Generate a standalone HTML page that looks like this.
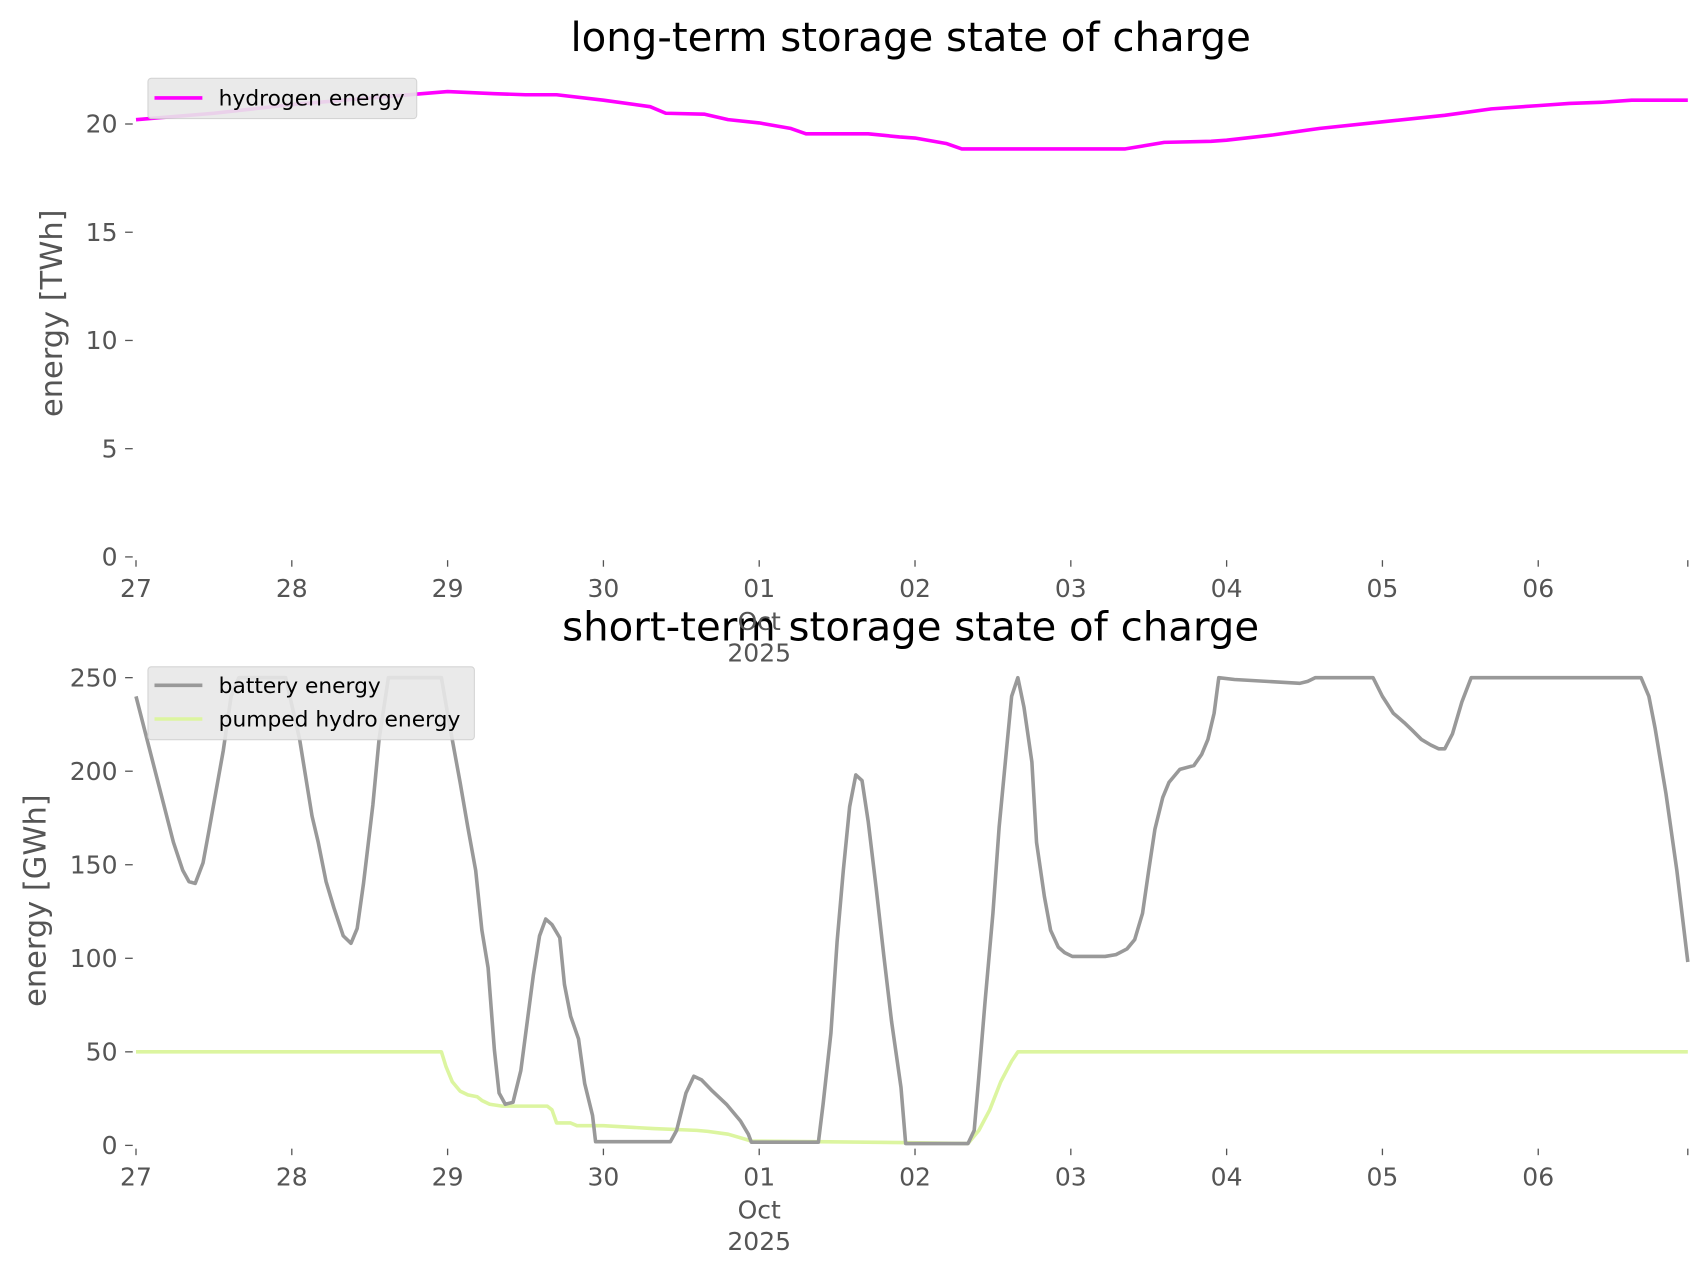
<!DOCTYPE html>
<html><head><meta charset="utf-8"><style>
html,body{margin:0;padding:0;background:#fff;}
svg{display:block;font-family:"DejaVu Sans","Liberation Sans",sans-serif;}
</style></head><body>
<svg id="chart" width="1706" height="1277" viewBox="0 0 1568 1174" preserveAspectRatio="none">
<text x="837" y="47" font-size="37" text-anchor="middle" fill="#000">long-term storage state of charge</text>
<text x="837" y="589" font-size="37" text-anchor="middle" fill="#000">short-term storage state of charge</text>
<text transform="translate(57,288) rotate(-90)" font-size="28" text-anchor="middle" fill="#555">energy [TWh]</text>
<text transform="translate(42,828) rotate(-90)" font-size="28" text-anchor="middle" fill="#555">energy [GWh]</text>
<g id="topAx"></g>
<g id="botAx"></g>
<g id="lines"></g>
<g>
<rect x="136" y="72" width="247" height="37" rx="3" fill="#e8e8e8" stroke="#d0d0d0" opacity="0.9"/>
<line x1="142" y1="90" x2="186" y2="90" stroke="#ff00ff" stroke-width="3.3"/>
<text x="201" y="97" font-size="20" fill="#000">hydrogen energy</text>
</g>
<g>
<rect x="136" y="613" width="300" height="67" rx="3" fill="#e8e8e8" stroke="#d0d0d0" opacity="0.9"/>
<line x1="142" y1="630" x2="186" y2="630" stroke="#999" stroke-width="3.3"/>
<text x="201" y="637" font-size="20" fill="#000">battery energy</text>
<line x1="142" y1="661" x2="186" y2="661" stroke="#dcf5a0" stroke-width="3.3"/>
<text x="201" y="668" font-size="20" fill="#000">pumped hydro energy</text>
</g>
</svg>
<script>
const dayLabels=["27","28","29","30","01","02","03","04","05","06"];
const topTicks=[0,5,10,15,20];
const botTicks=[0,50,100,150,200,250];
const h2Days=[0,0.5,1,1.5,2,2.3,2.5,2.7,3,3.3,3.4,3.65,3.8,4,4.2,4.3,4.7,4.9,5,5.2,5.3,5.7,6,6.35,6.6,6.9,7,7.3,7.6,8,8.4,8.7,9,9.2,9.4,9.6,9.96];
const h2Vals=[20.2,20.5,20.9,21.2,21.5,21.4,21.35,21.35,21.1,20.8,20.5,20.45,20.2,20.05,19.8,19.55,19.55,19.4,19.35,19.1,18.85,18.85,18.85,18.85,19.15,19.2,19.25,19.5,19.8,20.1,20.4,20.7,20.85,20.95,21.0,21.1,21.1];
const batDays=[0,0.16,0.24,0.3,0.34,0.38,0.43,0.47,0.56,0.61,0.66,0.96,1.05,1.13,1.17,1.22,1.27,1.33,1.38,1.42,1.46,1.52,1.56,1.62,1.96,2.01,2.08,2.13,2.18,2.22,2.26,2.30,2.33,2.37,2.42,2.47,2.55,2.59,2.63,2.67,2.72,2.75,2.79,2.84,2.88,2.93,2.95,3.43,3.47,3.53,3.58,3.63,3.70,3.79,3.88,3.93,3.95,4.38,4.41,4.46,4.50,4.54,4.58,4.62,4.66,4.70,4.75,4.80,4.85,4.91,4.94,5.34,5.38,5.41,5.45,5.50,5.54,5.59,5.62,5.66,5.70,5.75,5.78,5.83,5.87,5.92,5.96,6.01,6.06,6.22,6.29,6.36,6.41,6.46,6.50,6.54,6.59,6.63,6.70,6.79,6.84,6.88,6.92,6.95,7.05,7.47,7.52,7.57,7.94,8.00,8.07,8.14,8.19,8.25,8.31,8.36,8.40,8.45,8.51,8.57,9.66,9.71,9.75,9.82,9.89,9.96];
const batVals=[240,188,162,147,141,140,151,169,211,240,250,250,217,176,162,141,127,112,108,116,140,182,217,250,250,226,194,170,147,115,95,51,28,22,23,40,91,112,121,118,111,86,69,57,33,16,2,2,8,28,37,35,29,22,13,6,1.7,1.7,22,60,109,147,181,198,195,173,138,101,66,31,1,1,8,37,77,124,170,214,240,250,234,205,162,133,115,106,103,101,101,101,102,105,110,124,147,169,186,194,201,203,209,217,231,250,249,247,248,250,250,240,231,226,222,217,214,212,212,220,237,250,250,240,223,188,147,98];
const phDays=[0,1.96,1.99,2.03,2.08,2.13,2.19,2.22,2.27,2.35,2.64,2.67,2.70,2.79,2.83,3.00,3.32,3.6,3.67,3.8,3.95,4.37,4.92,5.34,5.41,5.48,5.55,5.62,5.66,9.96];
const phVals=[50,50,42,34,29,27,26,24,22,21,21,19,12,12,10.5,10.5,9,8,7.5,6,2.3,2,1.5,1,8,19,34,45,50,50];
const NS="http://www.w3.org/2000/svg";
const xS=d=>125+d*143.2;
const yTop=v=>512-v*19.9;
const yBot=v=>1053-v*1.72;
function mk(tag,attrs,parent,txt){const e=document.createElementNS(NS,tag);for(const k in attrs)e.setAttribute(k,attrs[k]);if(txt!==undefined)e.textContent=txt;parent.appendChild(e);return e;}
function axes(g,yf,ticks,y0,dateY){
  ticks.forEach(t=>{
    const tk=mk('line',{x1:115,x2:122,y1:yf(t),y2:yf(t),stroke:'#555','stroke-width':1.2},g);
    
    
    const l=mk('text',{x:108,y:yf(t)+8,'font-size':23,'text-anchor':'end',fill:'#555'},g,String(t));
    
    
  });
  for(let i=0;i<=10;i++){
    mk('line',{x1:xS(i>9?9.96:i),x2:xS(i>9?9.96:i),y1:y0+3,y2:y0+9,stroke:'#555','stroke-width':1.2},g);
  }
  dayLabels.forEach((d,i)=>{
    const l=mk('text',{x:xS(i),y:y0+37,'font-size':23,'text-anchor':'middle',fill:'#555'},g,d);
    
    
  });
  mk('text',{x:xS(4),y:dateY,'font-size':23,'text-anchor':'middle',fill:'#555'},g,'Oct');
  mk('text',{x:xS(4),y:dateY+29,'font-size':23,'text-anchor':'middle',fill:'#555'},g,'2025');
}
axes(document.getElementById('topAx'),yTop,topTicks,512,579);
axes(document.getElementById('botAx'),yBot,botTicks,1053,1120);
function line(days,vals,yf,color,name){
  const p=mk('path',{d:days.map((d,i)=>(i?'L':'M')+xS(d).toFixed(1)+','+yf(vals[i]).toFixed(1)).join(''),fill:'none',stroke:color,'stroke-width':3.3,'stroke-linejoin':'round'},document.getElementById('lines'));
  
  
}
line(h2Days,h2Vals,yTop,'#ff00ff','hydrogen-energy-line');
line(phDays,phVals,yBot,'#dcf5a0','pumped-hydro-energy-line');
line(batDays,batVals,yBot,'#999999','battery-energy-line');
</script>
</body></html>
